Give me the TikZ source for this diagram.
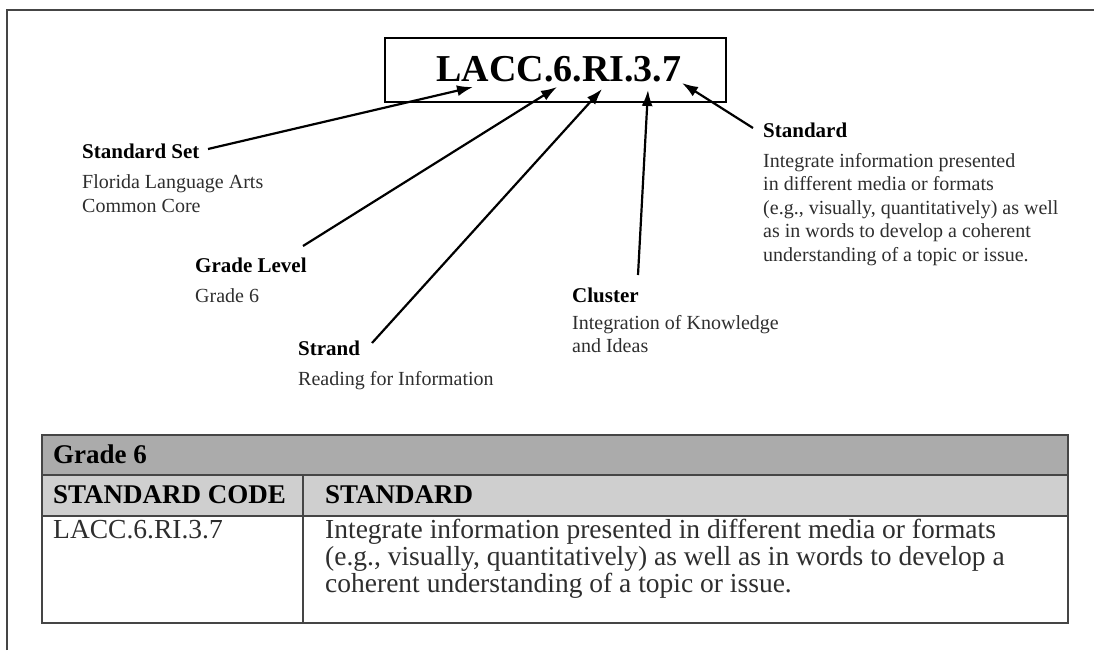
\documentclass[tikz,border=0pt]{standalone}
\usepackage{fontspec}
\setmainfont{Liberation Serif}
\usetikzlibrary{positioning,arrows.meta}
\definecolor{framegray}{rgb}{0.27,0.27,0.27}
\definecolor{textgray}{rgb}{0.18,0.18,0.18}
\definecolor{headgray}{rgb}{0.67,0.67,0.67}
\definecolor{subgray}{rgb}{0.81,0.81,0.81}

\begin{document}
\begin{tikzpicture}[x=1pt,y=-1pt,
    title/.style={anchor=base west,inner sep=0pt,font=\fontsize{21}{24}\selectfont\bfseries},
    desc/.style={anchor=base west,inner sep=0pt,align=left,text=textgray,font=\fontsize{20}{23.5}\selectfont},
    pointer/.style={line width=2.2pt,-{Latex[length=16pt,width=11pt]}},
    cell/.style={anchor=base west,inner sep=0pt,align=left,text=textgray,font=\fontsize{27.5}{27}\selectfont},
    headcell/.style={anchor=base west,inner sep=0pt,font=\fontsize{27}{28}\selectfont\bfseries}]
  \useasboundingbox (0,0) rectangle (1094,650);
  \draw[framegray,line width=2pt] (7,650) -- (7,10) -- (1094,10);
  % code box
  \draw[line width=2.5pt] (385,38) rectangle (726,102);
  \node[anchor=base,inner sep=0pt,font=\fontsize{38}{40}\selectfont\bfseries] (code) at (559,82) {LACC.6.RI.3.7};
  % labels (multi-line texts sit on their last line)
  \node[title] (settitle) at (82,158) {Standard Set};
  \node[desc] (setdesc) at (82,212) {Florida Language Arts\\Common Core};
  \node[title] (gradetitle) at (195,272) {Grade Level};
  \node[desc] (gradedesc) at (195,302) {Grade 6};
  \node[title] (strandtitle) at (298,355) {Strand};
  \node[desc] (stranddesc) at (298,385) {Reading for Information};
  \node[title] (clustertitle) at (572,302) {Cluster};
  \node[desc,font=\fontsize{20}{22.5}\selectfont] (clusterdesc) at (572,352) {Integration of Knowledge\\and Ideas};
  \node[title] (stdtitle) at (763,138) {Standard};
  \node[desc] (stddesc) at (763,261) {Integrate information presented\\in different media or formats\\(e.g., visually, quantitatively) as well\\as in words to develop a coherent\\understanding of a topic or issue.};
  % pointers
  \coordinate (setend) at (208,149);
  \coordinate (gradeend) at (303,246);
  \coordinate (strandend) at (372,343);
  \coordinate (clusterend) at (638,275);
  \coordinate (stdend) at (753,128);
  \coordinate (settip) at (473,87);
  \coordinate (gradetip) at (557,87);
  \coordinate (strandtip) at (602,89);
  \coordinate (clustertip) at (648,90);
  \coordinate (stdtip) at (682,83);
  \draw[pointer] (setend) -- (settip);
  \draw[pointer] (gradeend) -- (gradetip);
  \draw[pointer] (strandend) -- (strandtip);
  \draw[pointer] (clusterend) -- (clustertip);
  \draw[pointer] (stdend) -- (stdtip);
  % table
  \fill[headgray] (42,435) rectangle (1068,475);
  \fill[subgray] (42,475) rectangle (1068,516);
  \draw[framegray,line width=1.5pt] (42,475) -- (1068,475) (42,516) -- (1068,516) (303,475) -- (303,623);
  \draw[framegray,line width=2pt] (42,435) rectangle (1068,623);
  \node[headcell] (gradehead) at (53,463) {Grade 6};
  \node[headcell] (codehead) at (53,503) {STANDARD CODE};
  \node[headcell] (stdhead) at (325,503) {STANDARD};
  \node[cell] (codecell) at (53,538) {LACC.6.RI.3.7};
  \node[cell] (stdcell) at (325,592) {Integrate information presented in different media or formats\\(e.g., visually, quantitatively) as well as in words to develop a\\coherent understanding of a topic or issue.};
\end{tikzpicture}
\end{document}
